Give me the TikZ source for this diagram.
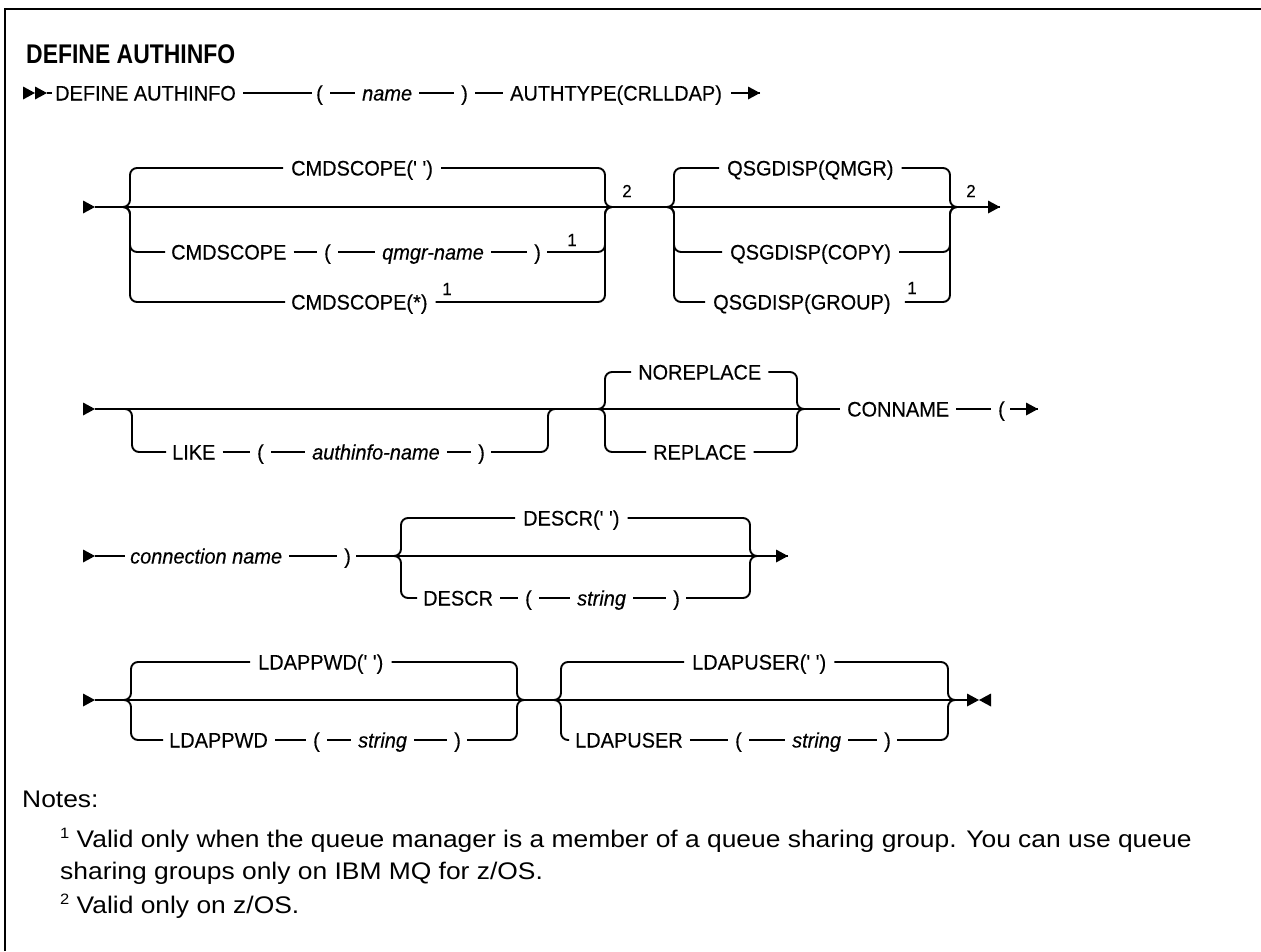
\documentclass[tikz,border=0pt]{standalone}
\usepackage{fontspec}
\setmainfont{Liberation Sans}
\newfontfamily\dgf[FakeStretch=0.95,FakeBold=0.3,Ligatures=TeXOff]{Liberation Sans}
\newfontfamily\notef[FakeStretch=1.1]{Liberation Sans}
\newfontfamily\headff[FakeStretch=0.85]{Liberation Sans}
\newcommand\dgfont{\dgf\fontsize{21}{25}\selectfont}
\newcommand\dgit{\dgf\itshape\fontsize{21}{25}\selectfont}
\newcommand\supfont{\dgf\fontsize{17.5}{19}\selectfont}
\newcommand\headfont{\headff\bfseries\fontsize{27}{30}\selectfont}
\newcommand\notefont{\notef\fontsize{24}{30}\selectfont}
\newcommand\nsup[1]{\raisebox{9pt}{\fontsize{15}{15}\selectfont #1}}
\begin{document}
\begin{tikzpicture}[x=1pt,y=-1pt,
  ln/.style={line width=1.9pt,rounded corners=7pt},
  plain/.style={line width=1.9pt},
  dsh/.style={line width=1.6pt,shorten <=7pt,shorten >=7pt},
  kw/.style={font=\dgfont,inner sep=0pt,text height=15pt,text depth=0pt,anchor=west},
  var/.style={kw,font=\dgit},
  supn/.style={font=\supfont,inner sep=0pt},
  notetext/.style={font=\notefont,inner sep=0pt,anchor=base west},
  rtri/.pic={\fill (0,0) -- (-12,-6.5) -- (-12,6.5) -- cycle;},
  ltri/.pic={\fill (0,0) -- (12,-6.5) -- (12,6.5) -- cycle;}]
\useasboundingbox (0,0) rectangle (1261,951);
\fill[white] (0,0) rectangle (1261,951);
% frame
\draw[line width=2.6pt] (5,951) -- (5,9) -- (1261,9);
% heading
\node[font=\headfont,inner sep=0pt,anchor=base west] (hd) at (26,63) {DEFINE AUTHINFO};

% ---------------- row 1
\coordinate (r1s) at (47,93);
\pic at (35,93) {rtri};
\pic at (r1s) {rtri};
\node[kw] (r1a) at (55,93) {DEFINE AUTHINFO};
\node[kw] (r1lp) at (316,93) {(};
\node[var] (r1n) at (362,93) {name};
\node[kw] (r1rp) at (461,93) {)};
\node[kw] (r1t) at (510,93) {AUTHTYPE(CRLLDAP)};
\coordinate (r1b) at (731,93);
\coordinate (r1e) at (760,93);
\draw[plain] (r1s) -- ([xshift=-3pt]r1a.west);
\draw[dsh] (r1a.east) -- ([xshift=3pt]r1lp.west);
\draw[dsh] (r1lp.east) -- (r1n.west);
\draw[dsh] (r1n.east) -- (r1rp.west);
\draw[dsh] (r1rp.east) -- (r1t.west);
\draw[plain] (r1b) -- (r1e);
\pic at (r1e) {rtri};

% ---------------- row 2
\coordinate (r2s) at (95,207);
\coordinate (aL) at (122,207);
\coordinate (aR) at (613,207);
\coordinate (bL) at (665,207);
\coordinate (bR) at (958,207);
\coordinate (r2e) at (1000,207);
\pic at (r2s) {rtri};
\draw[plain] (r2s) -- (r2e);
\pic at (r2e) {rtri};
% group A
\node[kw] (a1) at (291,168) {CMDSCOPE(' ')};
\draw[ln] (aL) -- ++(8,0) |- ([xshift=-8pt]a1.west);
\draw[ln] ([xshift=8pt]a1.east) -| ([xshift=-8pt]aR) -- (aR);
\node[kw] (a2k) at (171,252) {CMDSCOPE};
\node[kw] (a2l) at (324,252) {(};
\node[var] (a2v) at (382,252) {qmgr-name};
\node[kw] (a2r) at (534,252) {)};
\node[supn] (a2n) at (572,240) {1};
\draw[ln] (aL) -- ++(8,0) |- ([xshift=-6pt]a2k.west);
\draw[dsh] (a2k.east) -- (a2l.west);
\draw[dsh] (a2l.east) -- (a2v.west);
\draw[dsh] (a2v.east) -- (a2r.west);
\draw[ln] ([xshift=6pt]a2r.east) -| ([xshift=-8pt]aR) -- (aR);
\node[kw] (a3) at (291,302) {CMDSCOPE(*)};
\node[supn] (a3n) at (447,289) {1};
\draw[ln] (aL) -- ++(8,0) |- ([xshift=-6pt]a3.west);
\draw[ln] ([xshift=8pt]a3.east) -| ([xshift=-8pt]aR) -- (aR);
\node[supn] (a2s) at (627,191) {2};
% group B
\node[kw] (b1) at (727,168) {QSGDISP(QMGR)};
\node[kw] (b2) at (730,252) {QSGDISP(COPY)};
\node[kw] (b3) at (713,302) {QSGDISP(GROUP)};
\node[supn] (b3n) at (912,288) {1};
\draw[ln] (bL) -- ++(9,0) |- ([xshift=-8pt]b1.west);
\draw[ln] ([xshift=8pt]b1.east) -| ([xshift=-8pt]bR) -- (bR);
\draw[ln] (bL) -- ++(9,0) |- ([xshift=-8pt]b2.west);
\draw[ln] ([xshift=8pt]b2.east) -| ([xshift=-8pt]bR) -- (bR);
\draw[ln] (bL) -- ++(9,0) |- ([xshift=-8pt]b3.west);
\draw[ln] ([xshift=14pt]b3.east) -| ([xshift=-8pt]bR) -- (bR);
\node[supn] (b2s) at (971,191) {2};

% ---------------- row 3
\coordinate (r3s) at (95,409);
\coordinate (cL) at (122,409);
\coordinate (cR) at (557,409);
\coordinate (dL) at (597,409);
\coordinate (dR) at (807,409);
\coordinate (r3e) at (1038,409);
\pic at (r3s) {rtri};
\node[kw] (con) at (847,409) {CONNAME};
\node[kw] (conp) at (998,409) {(};
\draw[plain] (r3s) -- ([xshift=-7pt]con.west);
\draw[dsh] (con.east) -- (conp.west);
\draw[plain] ([xshift=5pt]conp.east) -- (r3e);
\pic at (r3e) {rtri};
% group C (LIKE)
\node[kw] (c1k) at (172,452) {LIKE};
\node[kw] (c1l) at (257,452) {(};
\node[var] (c1v) at (312,452) {authinfo-name};
\node[kw] (c1r) at (478,452) {)};
\draw[ln] (cL) -- ++(10,0) |- ([xshift=-6pt]c1k.west);
\draw[dsh] (c1k.east) -- (c1l.west);
\draw[dsh] (c1l.east) -- (c1v.west);
\draw[dsh] (c1v.east) -- (c1r.west);
\draw[ln] ([xshift=6pt]c1r.east) -| ([xshift=-9pt]cR) -- (cR);
% group D
\node[kw] (d1) at (638,372) {NOREPLACE};
\node[kw] (d2) at (653,452) {REPLACE};
\draw[ln] (dL) -- ++(8,0) |- ([xshift=-7pt]d1.west);
\draw[ln] ([xshift=7pt]d1.east) -| ([xshift=-10pt]dR) -- (dR);
\draw[ln] (dL) -- ++(8,0) |- ([xshift=-7pt]d2.west);
\draw[ln] ([xshift=7pt]d2.east) -| ([xshift=-10pt]dR) -- (dR);

% ---------------- row 4
\coordinate (r4s) at (95,556);
\coordinate (eL) at (393,556);
\coordinate (eR) at (758,556);
\coordinate (r4e) at (788,556);
\pic at (r4s) {rtri};
\node[var] (cn) at (130,556) {connection name};
\node[kw] (cnr) at (344,556) {)};
\draw[plain] (r4s) -- ([xshift=-5pt]cn.west);
\draw[dsh] (cn.east) -- (cnr.west);
\draw[plain] ([xshift=5pt]cnr.east) -- (r4e);
\pic at (r4e) {rtri};
\node[kw] (e1) at (523,518) {DESCR(' ')};
\draw[ln] (eL) -- ++(8,0) |- ([xshift=-8pt]e1.west);
\draw[ln] ([xshift=8pt]e1.east) -| ([xshift=-8pt]eR) -- (eR);
\node[kw] (e2k) at (423,598) {DESCR};
\node[kw] (e2l) at (525,598) {(};
\node[var] (e2v) at (577,598) {string};
\node[kw] (e2r) at (673,598) {)};
\draw[ln] (eL) -- ++(8,0) |- ([xshift=-6pt]e2k.west);
\draw[dsh] (e2k.east) -- (e2l.west);
\draw[dsh] (e2l.east) -- (e2v.west);
\draw[dsh] (e2v.east) -- (e2r.west);
\draw[ln] ([xshift=6pt]e2r.east) -| ([xshift=-8pt]eR) -- (eR);

% ---------------- row 5
\coordinate (r5s) at (95,700);
\coordinate (fL) at (123,700);
\coordinate (fR) at (525,700);
\coordinate (gL) at (553,700);
\coordinate (gR) at (956,700);
\coordinate (r5e) at (967,700);
\coordinate (r5x) at (979,700);
\pic at (r5s) {rtri};
\draw[plain] (r5s) -- (r5e);
\pic at (r5x) {rtri};
\pic at (r5x) {ltri};
% group F
\node[kw] (f1) at (258,662) {LDAPPWD(' ')};
\draw[ln] (fL) -- ++(8,0) |- ([xshift=-8pt]f1.west);
\draw[ln] ([xshift=8pt]f1.east) -| ([xshift=-8pt]fR) -- (fR);
\node[kw] (f2k) at (169,740) {LDAPPWD};
\node[kw] (f2l) at (313,740) {(};
\node[var] (f2v) at (358,740) {string};
\node[kw] (f2r) at (454,740) {)};
\draw[ln] (fL) -- ++(8,0) |- ([xshift=-6pt]f2k.west);
\draw[dsh] (f2k.east) -- (f2l.west);
\draw[dsh] (f2l.east) -- (f2v.west);
\draw[dsh] (f2v.east) -- (f2r.west);
\draw[ln] ([xshift=6pt]f2r.east) -| ([xshift=-8pt]fR) -- (fR);
% group G
\node[kw] (g1) at (692,662) {LDAPUSER(' ')};
\draw[ln] (gL) -- ++(8,0) |- ([xshift=-8pt]g1.west);
\draw[ln] ([xshift=8pt]g1.east) -| ([xshift=-8pt]gR) -- (gR);
\node[kw] (g2k) at (575,740) {LDAPUSER};
\node[kw] (g2l) at (735,740) {(};
\node[var] (g2v) at (792,740) {string};
\node[kw] (g2r) at (884,740) {)};
\draw[ln] (gL) -- ++(8,0) |- ([xshift=-6pt]g2k.west);
\draw[dsh] (g2k.east) -- (g2l.west);
\draw[dsh] (g2l.east) -- (g2v.west);
\draw[dsh] (g2v.east) -- (g2r.west);
\draw[ln] ([xshift=6pt]g2r.east) -| ([xshift=-8pt]gR) -- (gR);

% ---------------- notes
\node[notetext] (nt) at (22,807) {Notes:};
\node[notetext] (n1a) at (60,847) {\nsup{1} Valid only when the queue manager is a member of a queue sharing group. You can use queue};
\node[notetext] (n1b) at (60,879) {sharing groups only on IBM MQ for z/OS.};
\node[notetext] (n2) at (60,913) {\nsup{2} Valid only on z/OS.};
\end{tikzpicture}
\end{document}
